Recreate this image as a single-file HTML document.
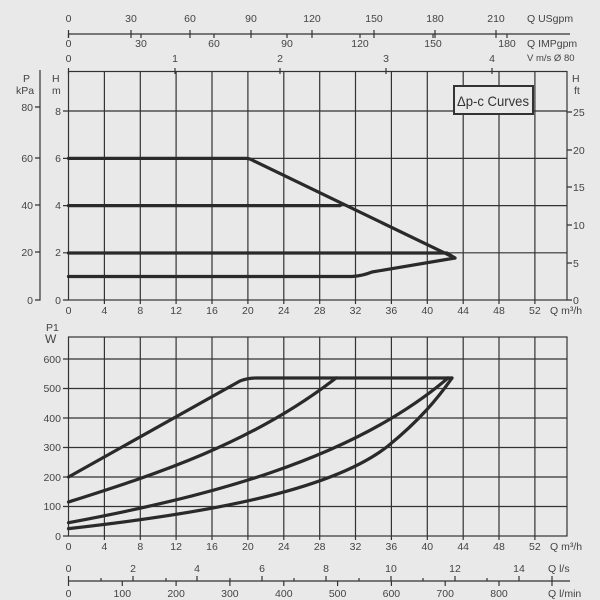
<!DOCTYPE html>
<html><head><style>
html,body{margin:0;padding:0;background:#e9e9e9;}
svg{display:block;font-family:"Liberation Sans",sans-serif;}
.g{stroke:#333;stroke-width:1.2;fill:none}
.c{stroke:#2a2a2a;stroke-width:3.2;fill:none;stroke-linejoin:round;stroke-linecap:round}
text{fill:#444;font-size:10.5px}
</style></head><body>
<svg width="600" height="600" viewBox="0 0 600 600">
<rect width="600" height="600" fill="#e9e9e9"/>
<line class="g" x1="68.5" y1="34" x2="570" y2="34"/>
<g class="g">
<path d="M68.5 30V38M131 30V38M190 30V38M251 30V38M312 30V38M374 30V38M435 30V38M496 30V38"/>
<path d="M68.5 34V38M141 34V38M214 34V38M287 34V38M360 34V38M433 34V38M507 34V38"/>
<path d="M68.5 68V74M175 68V74M280 68V74M386 68V74M492 68V74"/>
</g>
<g text-anchor="middle">
<text x="68.5" y="22">0</text><text x="131" y="22">30</text><text x="190" y="22">60</text><text x="251" y="22">90</text><text x="312" y="22">120</text><text x="374" y="22">150</text><text x="435" y="22">180</text><text x="496" y="22">210</text>
<text x="68.5" y="47">0</text><text x="141" y="47">30</text><text x="214" y="47">60</text><text x="287" y="47">90</text><text x="360" y="47">120</text><text x="433" y="47">150</text><text x="507" y="47">180</text>
<text x="68.5" y="62">0</text><text x="175" y="62">1</text><text x="280" y="62">2</text><text x="386" y="62">3</text><text x="492" y="62">4</text>
</g>
<text x="527" y="22">Q USgpm</text>
<text x="527" y="47">Q IMPgpm</text>
<text x="527" y="61" style="font-size:9.5px">V m/s Ø 80</text>
<rect class="g" x="68.5" y="71.5" width="498.5" height="228.5"/>
<g class="g">
<path d="M104.4 71.5V300M140.3 71.5V300M176.1 71.5V300M212 71.5V300M247.9 71.5V300M283.8 71.5V300M319.7 71.5V300M355.5 71.5V300M391.4 71.5V300M427.3 71.5V300M463.2 71.5V300M499 71.5V300M534.9 71.5V300"/>
<path d="M68.5 111H567M68.5 158.4H567M68.5 205.6H567M68.5 252.8H567"/>
<path d="M63 111H68.5M63 158.4H68.5M63 205.6H68.5M63 252.8H68.5M63 300H68.5"/>
<path d="M567 112H572M567 150H572M567 187H572M567 225H572M567 263H572M567 300H572"/>
<path d="M40 70V300H35M35 107H40M35 158H40M35 205H40M35 252H40"/>
<path d="M104.4 300V304M140.3 300V304M176.1 300V304M212 300V304M247.9 300V304M283.8 300V304M319.7 300V304M355.5 300V304M391.4 300V304M427.3 300V304M463.2 300V304M499 300V304M534.9 300V304"/>
</g>
<text x="23" y="82">P</text><text x="16" y="94">kPa</text>
<text x="52" y="82">H</text><text x="52" y="94">m</text>
<text x="572" y="82">H</text><text x="574" y="94">ft</text>
<g text-anchor="end">
<text x="33" y="111">80</text><text x="33" y="162">60</text><text x="33" y="209">40</text><text x="33" y="256">20</text><text x="33" y="304">0</text>
<text x="61" y="115">8</text><text x="61" y="162">6</text><text x="61" y="209">4</text><text x="61" y="256">2</text><text x="61" y="304">0</text>
</g>
<g>
<text x="573" y="116">25</text><text x="573" y="154">20</text><text x="573" y="191">15</text><text x="573" y="229">10</text><text x="573" y="267">5</text><text x="573" y="304">0</text>
</g>
<g text-anchor="middle">
<text x="68.5" y="314">0</text><text x="104.4" y="314">4</text><text x="140.3" y="314">8</text><text x="176.1" y="314">12</text><text x="212" y="314">16</text><text x="247.9" y="314">20</text><text x="283.8" y="314">24</text><text x="319.7" y="314">28</text><text x="355.5" y="314">32</text><text x="391.4" y="314">36</text><text x="427.3" y="314">40</text><text x="463.2" y="314">44</text><text x="499" y="314">48</text><text x="534.9" y="314">52</text>
</g>
<text x="550" y="314">Q m³/h</text>
<rect x="454" y="86" width="79" height="28" fill="#e9e9e9" stroke="#333" stroke-width="2"/>
<text x="457" y="106" style="font-size:14px;fill:#333" textLength="72" lengthAdjust="spacingAndGlyphs">Δp-c Curves</text>
<path class="c" d="M68.5 158.4H246Q250 158.4 254 161L455 258L447 253H68.5"/>
<path class="c" d="M68.5 205.6H340"/>
<path class="c" d="M68.5 276.5H352Q362 276 372 272L455 258"/>
<rect class="g" x="68.5" y="337" width="498.5" height="199"/>
<g class="g">
<path d="M104.4 337V536M140.3 337V536M176.1 337V536M212 337V536M247.9 337V536M283.8 337V536M319.7 337V536M355.5 337V536M391.4 337V536M427.3 337V536M463.2 337V536M499 337V536M534.9 337V536"/>
<path d="M68.5 359H567M68.5 388.5H567M68.5 418H567M68.5 447.5H567M68.5 477H567M68.5 506.5H567"/>
<path d="M63 359H68.5M63 388.5H68.5M63 418H68.5M63 447.5H68.5M63 477H68.5M63 506.5H68.5M63 536H68.5"/>
<path d="M104.4 536V540M140.3 536V540M176.1 536V540M212 536V540M247.9 536V540M283.8 536V540M319.7 536V540M355.5 536V540M391.4 536V540M427.3 536V540M463.2 536V540M499 536V540M534.9 536V540"/>
</g>
<text x="46" y="331">P1</text><text x="45" y="343" style="font-size:12px">W</text>
<g text-anchor="end">
<text x="61" y="363">600</text><text x="61" y="392">500</text><text x="61" y="422">400</text><text x="61" y="451">300</text><text x="61" y="481">200</text><text x="61" y="510">100</text><text x="61" y="540">0</text>
</g>
<g text-anchor="middle">
<text x="68.5" y="550">0</text><text x="104.4" y="550">4</text><text x="140.3" y="550">8</text><text x="176.1" y="550">12</text><text x="212" y="550">16</text><text x="247.9" y="550">20</text><text x="283.8" y="550">24</text><text x="319.7" y="550">28</text><text x="355.5" y="550">32</text><text x="391.4" y="550">36</text><text x="427.3" y="550">40</text><text x="463.2" y="550">44</text><text x="499" y="550">48</text><text x="534.9" y="550">52</text>
</g>
<text x="550" y="550">Q m³/h</text>
<path class="c" d="M68.5 477L240 381Q248 378 256 378H452L438 378"/>
<path class="c" d="M68.5 502C150 476 250 445 336 378"/>
<path class="c" d="M68.5 522.7C200 498 350 462 448 378"/>
<path class="c" d="M68.5 528.6C200 514 330 492 388 446C420 420 438 398 452 378"/>
<line class="g" x1="68.5" y1="581" x2="570" y2="581"/>
<g class="g">
<path d="M68.5 576V586M101 578V581M133 576V581M166 578V581M197 576V581M230 578V581M262 576V581M294 578V581M326 576V581M359 578V581M391 576V581M423 578V581M455 576V581M487 578V581M519 576V581M552 576V586"/>
<path d="M122.3 581V586M176.1 581V586M229.9 581V586M283.8 581V586M337.6 581V586M391.4 581V586M445.2 581V586M499 581V586"/>
</g>
<g text-anchor="middle">
<text x="68.5" y="572">0</text><text x="133" y="572">2</text><text x="197" y="572">4</text><text x="262" y="572">6</text><text x="326" y="572">8</text><text x="391" y="572">10</text><text x="455" y="572">12</text><text x="519" y="572">14</text>
<text x="68.5" y="597">0</text><text x="122.3" y="597">100</text><text x="176.1" y="597">200</text><text x="229.9" y="597">300</text><text x="283.8" y="597">400</text><text x="337.6" y="597">500</text><text x="391.4" y="597">600</text><text x="445.2" y="597">700</text><text x="499" y="597">800</text>
</g>
<text x="548" y="572">Q l/s</text>
<text x="548" y="597">Q l/min</text>
</svg>
</body></html>
